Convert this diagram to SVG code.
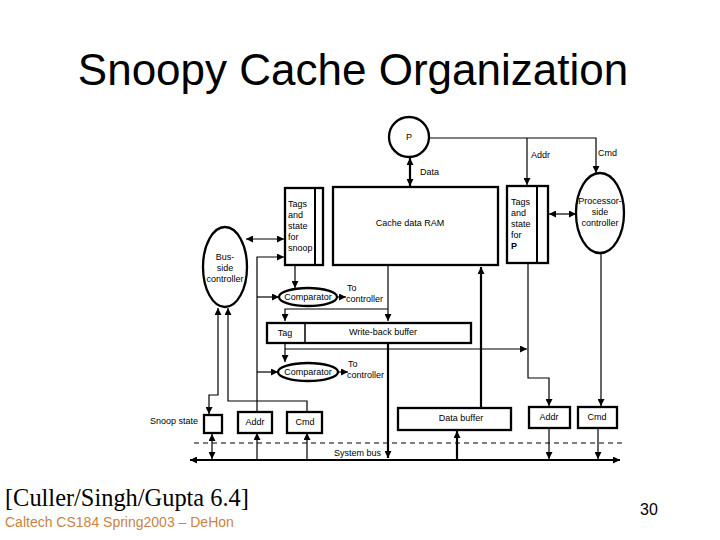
<svg xmlns="http://www.w3.org/2000/svg" width="720" height="540" viewBox="0 0 720 540">
<style>
.t{font-family:"Liberation Sans",Arial,sans-serif;font-size:9px;fill:#000}
.tm{text-anchor:middle}
.box{fill:#fff;stroke:#000;stroke-width:2.3}
.ln{fill:none;stroke:#000;stroke-width:1.2}
.tk{fill:none;stroke:#000;stroke-width:2.2}
</style>
<defs>
<marker id="a" viewBox="0 0 10 10" refX="10" refY="5" markerWidth="9" markerHeight="7" markerUnits="userSpaceOnUse" orient="auto-start-reverse"><path d="M0,0 L10,5 L0,10 z" fill="#000"/></marker>
</defs>
<rect width="720" height="540" fill="#fff"/>
<text x="353" y="85" font-family="Liberation Sans, Arial, sans-serif" font-size="44" text-anchor="middle">Snoopy Cache Organization</text>

<g id="connectors">
<path class="ln" d="M429,138 H596 V173" marker-end="url(#a)"/>
<path class="ln" d="M527,138 V185" marker-end="url(#a)"/>
<path class="tk" d="M410,158 V186" marker-start="url(#a)" marker-end="url(#a)"/>
<path class="ln" d="M549,214 H576" marker-start="url(#a)" marker-end="url(#a)"/>
<path class="ln" d="M601,253 V406" marker-end="url(#a)"/>
<path class="ln" d="M528,264 V378 H549 V406" marker-end="url(#a)"/>
<path class="ln" d="M285,349 H527" marker-end="url(#a)"/>
<path class="ln" d="M388,266 V321" marker-end="url(#a)"/>
<path class="ln" d="M388,309 H285 V321" marker-end="url(#a)"/>
<path class="ln" d="M285,343 V362" marker-end="url(#a)"/>
<path class="tk" d="M388,343 V458" marker-end="url(#a)"/>
<path class="tk" d="M481,408 V267" marker-end="url(#a)"/>
<path class="tk" d="M457,459 V431" marker-end="url(#a)"/>
<path class="ln" d="M549,429 V459" marker-end="url(#a)"/>
<path class="ln" d="M598,429 V459" marker-end="url(#a)"/>
<path class="ln" d="M246,239 H284" marker-start="url(#a)" marker-end="url(#a)"/>
<path class="ln" d="M257,412 V257 H284" marker-end="url(#a)"/>
<path class="ln" d="M257,297 H279" marker-end="url(#a)"/>
<path class="ln" d="M257,372 H278" marker-end="url(#a)"/>
<path class="ln" d="M295,266 V288" marker-end="url(#a)"/>
<path class="ln" d="M337,297 H346" marker-end="url(#a)"/>
<path class="ln" d="M339,372 H348" marker-end="url(#a)"/>
<path class="ln" d="M218,308 V395 H209 V414" marker-start="url(#a)" marker-end="url(#a)"/>
<path class="ln" d="M228,308 V401 H307 V412" marker-start="url(#a)"/>
<path class="ln" d="M212,434 V459" marker-start="url(#a)" marker-end="url(#a)"/>
<path class="ln" d="M257,460 V433" marker-end="url(#a)"/>
<path class="ln" d="M307,460 V433" marker-end="url(#a)"/>
<path class="tk" d="M190,460 H620" marker-start="url(#a)" marker-end="url(#a)"/>
<path class="ln" d="M194,443 H622" stroke-dasharray="5,4"/>
</g>

<g id="P"><circle cx="409" cy="137" r="20" class="box"/><text x="409" y="140" class="t tm">P</text></g>
<text x="420" y="175" class="t">Data</text>
<text x="531" y="158" class="t">Addr</text>
<text x="598" y="156" class="t">Cmd</text>

<g id="cacheRAM"><rect x="333" y="187" width="165" height="78" class="box"/><text x="410" y="226" class="t tm">Cache data RAM</text></g>

<g id="tagsP"><rect x="507" y="186" width="41" height="77" class="box"/><line x1="537" y1="186" x2="537" y2="263" stroke="#000" stroke-width="2"/>
<text class="t" x="511"><tspan x="511" y="205">Tags</tspan><tspan x="511" y="216">and</tspan><tspan x="511" y="227">state</tspan><tspan x="511" y="238">for</tspan><tspan x="511" y="249" font-weight="bold">P</tspan></text></g>

<g id="procCtrl"><ellipse cx="600" cy="213" rx="24" ry="40" class="box"/>
<text class="t tm"><tspan x="600" y="204">Processor-</tspan><tspan x="600" y="215">side</tspan><tspan x="600" y="226">controller</tspan></text></g>

<g id="tagsSnoop"><rect x="285" y="188" width="38" height="77" class="box"/><line x1="315" y1="188" x2="315" y2="265" stroke="#000" stroke-width="2"/>
<text class="t" x="288"><tspan x="288" y="207">Tags</tspan><tspan x="288" y="218">and</tspan><tspan x="288" y="229">state</tspan><tspan x="288" y="240">for</tspan><tspan x="288" y="251">snoop</tspan></text></g>

<g id="busCtrl"><ellipse cx="225" cy="267" rx="22" ry="40" class="box"/>
<text class="t tm"><tspan x="225" y="260">Bus-</tspan><tspan x="225" y="271">side</tspan><tspan x="225" y="282">controller</tspan></text></g>

<g id="comp1"><ellipse cx="308" cy="297" rx="29" ry="9" class="box"/><text x="308" y="300" class="t tm">Comparator</text></g>
<text class="t"><tspan x="347" y="291">To</tspan><tspan x="346" y="302">controller</tspan></text>

<g id="wbBuffer"><rect x="267" y="323" width="204" height="20" class="box"/><line x1="305" y1="323" x2="305" y2="343" stroke="#000" stroke-width="1.5"/>
<text x="285" y="336" class="t tm">Tag</text><text x="383" y="335" class="t tm">Write-back buffer</text></g>

<g id="comp2"><ellipse cx="308" cy="372" rx="30" ry="9" class="box"/><text x="308" y="375" class="t tm">Comparator</text></g>
<text class="t"><tspan x="348" y="367">To</tspan><tspan x="347" y="378">controller</tspan></text>

<g id="snoopState"><rect x="204" y="415" width="18" height="18" class="box"/></g>
<text x="150" y="424" class="t">Snoop state</text>
<g id="snoopAddr"><rect x="238" y="412" width="34" height="21" class="box"/><text x="255" y="425" class="t tm">Addr</text></g>
<g id="snoopCmd"><rect x="287" y="412" width="35" height="21" class="box"/><text x="305" y="425" class="t tm">Cmd</text></g>
<g id="dataBuffer"><rect x="398" y="408" width="113" height="22" class="box"/><text x="461" y="421" class="t tm">Data buffer</text></g>
<g id="procAddr"><rect x="529" y="407" width="41" height="21" class="box"/><text x="549" y="420" class="t tm">Addr</text></g>
<g id="procCmd"><rect x="578" y="407" width="39" height="21" class="box"/><text x="597" y="420" class="t tm">Cmd</text></g>
<text x="334" y="456" class="t">System bus</text>

<text x="5" y="506" font-family="Liberation Serif, Times New Roman, serif" font-size="24.4">[Culler/Singh/Gupta 6.4]</text>
<text x="5" y="527" font-family="Liberation Sans, Arial, sans-serif" font-size="14" fill="#C8843F">Caltech CS184 Spring2003 – DeHon</text>
<text x="649" y="515" font-family="Liberation Sans, Arial, sans-serif" font-size="16" text-anchor="middle">30</text>
</svg>
